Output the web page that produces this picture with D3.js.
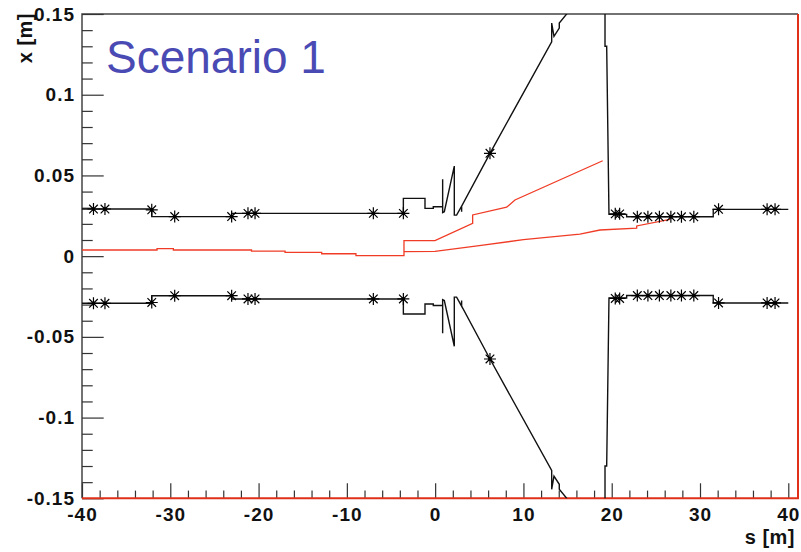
<!DOCTYPE html>
<html>
<head>
    <meta charset="utf-8">
    <title>Scenario 1</title>
    <script src="https://cdn.jsdelivr.net/npm/d3@7/dist/d3.min.js"></script>
    <style>
        body {
            margin: 0;
            background: #fff;
        }

        svg {
            display: block;
        }

        .tick text {
            font-family: "Liberation Sans", Arial, sans-serif;
            font-weight: bold;
            font-size: 19px;
            letter-spacing: 1px;
            fill: #111;
        }

        .tick line {
            stroke: #333;
            stroke-width: 1.2;
        }

        .axis-title {
            font-family: "Liberation Sans", Arial, sans-serif;
            font-weight: bold;
            font-size: 20px;
            letter-spacing: 0.5px;
            fill: #111;
        }
    </style>
</head>
<body>
<svg width="801" height="552"></svg>
<script>

// aperture (upper half, lower half is mirrored), s [m] / x [m]
var apertureS = [-40, -32.1, -32.1, -23.05, -23.05, -3.6, -3.6, -1.15, -1.15, -0.21, -0.21, 0.85, 0.85, 0.85,
        1.04, 2.17, 2.17, 2.43, 3.0, 3.0, 3.0, 6.21, 13.2, 13.2, 13.46, 14.06, 14.06, 14.9, 16, 19.24,
        19.24, 19.43, 19.69, 21.69, 21.69, 31.5, 31.5, 40],
    apertureX = [0.0292, 0.0292, 0.0245, 0.0245, 0.0265, 0.0265, 0.0358, 0.0358, 0.0296, 0.0296, 0.0306, 0.0306, 0.0477, 0.0270,
        0.0275, 0.0558, 0.0254, 0.0254, 0.031, 0.0275, 0.031, 0.0637, 0.1328, 0.1444, 0.1362, 0.1413, 0.1444, 0.150, 0.2, 0.2,
        0.130, 0.130, 0.0259, 0.0259, 0.0244, 0.0244, 0.0290, 0.0290];

// element markers
var markerS = [-38.7, -37.4, -32.1, -29.5, -23.05, -21.2, -20.4, -7.0, -3.6, 6.21,
        20.4, 20.9, 22.9, 24.1, 25.4, 26.7, 27.9, 29.3, 32.1, 37.6, 38.5],
    markerX = [0.0292, 0.0292, 0.0287, 0.0245, 0.0245, 0.0265, 0.0265, 0.0265, 0.0265, 0.0637,
        0.0262, 0.0262, 0.0244, 0.0244, 0.0244, 0.0244, 0.0244, 0.0244, 0.0290, 0.0290, 0.0290];

// beam lines (red)
var beamAS = [-40, -31.5, -31.5, -29.65, -29.65, -20.8, -20.8, -17, -17, -12.85, -12.85, -8.97, -8.97, -3.53,
        -3.53, -0.02, 4.25, 4.25, 8.1, 9.04, 18.98],
    beamAX = [0.0038, 0.0038, 0.0046, 0.0046, 0.0038, 0.0038, 0.0031, 0.0031, 0.0023, 0.0023, 0.0015, 0.0015, 0.0003, 0.0003,
        0.0096, 0.0096, 0.0204, 0.0255, 0.0303, 0.0348, 0.0591];

var beamBS = [-3.53, -0.02, 5, 10, 16.4, 18.67, 22.83, 22.83, 26.6],
    beamBX = [0.0028, 0.0030, 0.0065, 0.0102, 0.0136, 0.0162, 0.0173, 0.0187, 0.0228];

var xTicks = [-40, -30, -20, -10, 0, 10, 20, 30, 40],
    yTicks = [-0.15, -0.1, -0.05, 0, 0.05, 0.1, 0.15],
    yTickLabels = ['-0.15', '-0.1', '-0.05', '0', '0.05', '0.1', '0.15'];

var frameLeft = 82, frameRight = 798, frameTop = 14, frameBottom = 498.3;

var svg = d3.select('svg');

svg.append('rect')
    .attr('width', 801)
    .attr('height', 552)
    .attr('fill', '#fff');

var x = d3.scaleLinear().domain([-40, 41.1]).range([frameLeft, frameRight]),
    y = d3.scaleLinear().domain([-0.15, 0.15]).range([frameBottom, frameTop]);

svg.append('clipPath')
    .attr('id', 'plotClip')
    .append('rect')
    .attr('x', frameLeft)
    .attr('y', frameTop)
    .attr('width', frameRight - frameLeft)
    .attr('height', frameBottom - frameTop);

// frame top & left
svg.append('path')
    .attr('d', 'M' + frameLeft + ',' + frameBottom + 'V' + frameTop + 'H' + frameRight)
    .attr('fill', 'none')
    .attr('stroke', '#444')
    .attr('stroke-width', 1.5);

// minor ticks
var minorX = d3.range(-40, 41, 2).filter(function (d) { return d % 10 !== 0; }),
    minorY = d3.range(-15, 16, 1).map(function (d) { return d / 100; })
        .filter(function (d) { return Math.abs(Math.round(d * 100) % 5) !== 0; });

svg.append('g')
    .attr('transform', 'translate(0,' + frameBottom + ')')
    .call(d3.axisBottom(x).tickValues(minorX).tickSize(-7.7).tickFormat(''))
    .select('.domain').remove();

svg.append('g')
    .attr('transform', 'translate(' + frameLeft + ',0)')
    .call(d3.axisLeft(y).tickValues(minorY).tickSize(-10.7).tickFormat(''))
    .select('.domain').remove();

// major ticks
var xAxis = svg.append('g')
    .attr('transform', 'translate(0,' + frameBottom + ')')
    .call(d3.axisBottom(x).tickValues(xTicks).tickSize(-15).tickPadding(9)
        .tickFormat(function (d) { return String(d); }));
xAxis.select('.domain').remove();

var yAxis = svg.append('g')
    .attr('transform', 'translate(' + frameLeft + ',0)')
    .call(d3.axisLeft(y).tickValues(yTicks).tickSize(-21.7).tickPadding(7)
        .tickFormat(function (d, i) { return yTickLabels[i]; }));
yAxis.select('.domain').remove();

// frame bottom & right in red
svg.append('path')
    .attr('d', 'M' + frameLeft + ',' + frameBottom + 'H' + frameRight + 'V' + frameTop)
    .attr('fill', 'none')
    .attr('stroke', '#e0301a')
    .attr('stroke-width', 2);

var plot = svg.append('g').attr('clip-path', 'url(#plotClip)');

var line = d3.line()
    .x(function (d) { return x(d[0]); })
    .y(function (d) { return y(d[1]); });

var upper = apertureS.map(function (s, i) { return [s, apertureX[i]]; }),
    lower = apertureS.map(function (s, i) { return [s, -apertureX[i]]; });

[upper, lower].forEach(function (pts) {
    plot.append('path')
        .attr('d', line(pts))
        .attr('fill', 'none')
        .attr('stroke', '#111')
        .attr('stroke-width', 1.4);
});

[[beamAS, beamAX], [beamBS, beamBX]].forEach(function (b) {
    plot.append('path')
        .attr('d', line(b[0].map(function (s, i) { return [s, b[1][i]]; })))
        .attr('fill', 'none')
        .attr('stroke', '#f03c26')
        .attr('stroke-width', 1.3);
});

// asterisk markers on both halves
var markers = [];
markerS.forEach(function (s, i) {
    markers.push({s: s, v: markerX[i]});
    markers.push({s: s, v: -markerX[i]});
});

var star = 'M-6,0H6M0,-6V6M-4.3,-4.3L4.3,4.3M-4.3,4.3L4.3,-4.3';

var mk = plot.selectAll('g.marker')
    .data(markers)
    .enter()
    .append('g')
    .attr('class', 'marker')
    .attr('transform', function (d) { return 'translate(' + x(d.s) + ',' + y(d.v) + ')'; });

mk.append('path')
    .attr('d', star)
    .attr('stroke', '#000')
    .attr('stroke-width', 1.2);

mk.append('circle')
    .attr('r', 1.8)
    .attr('fill', '#000');

// axis titles
svg.append('text')
    .attr('class', 'axis-title')
    .attr('x', 795)
    .attr('y', 544)
    .attr('text-anchor', 'end')
    .text('s [m]');

svg.append('text')
    .attr('class', 'axis-title')
    .attr('transform', 'translate(32,13) rotate(-90)')
    .attr('text-anchor', 'end')
    .text('x [m]');

svg.append('text')
    .attr('x', 106)
    .attr('y', 73)
    .attr('font-family', '"Liberation Sans", Arial, sans-serif')
    .attr('font-size', 46)
    .attr('fill', '#4a4ab4')
    .text('Scenario 1');

</script>
</body>
</html>
